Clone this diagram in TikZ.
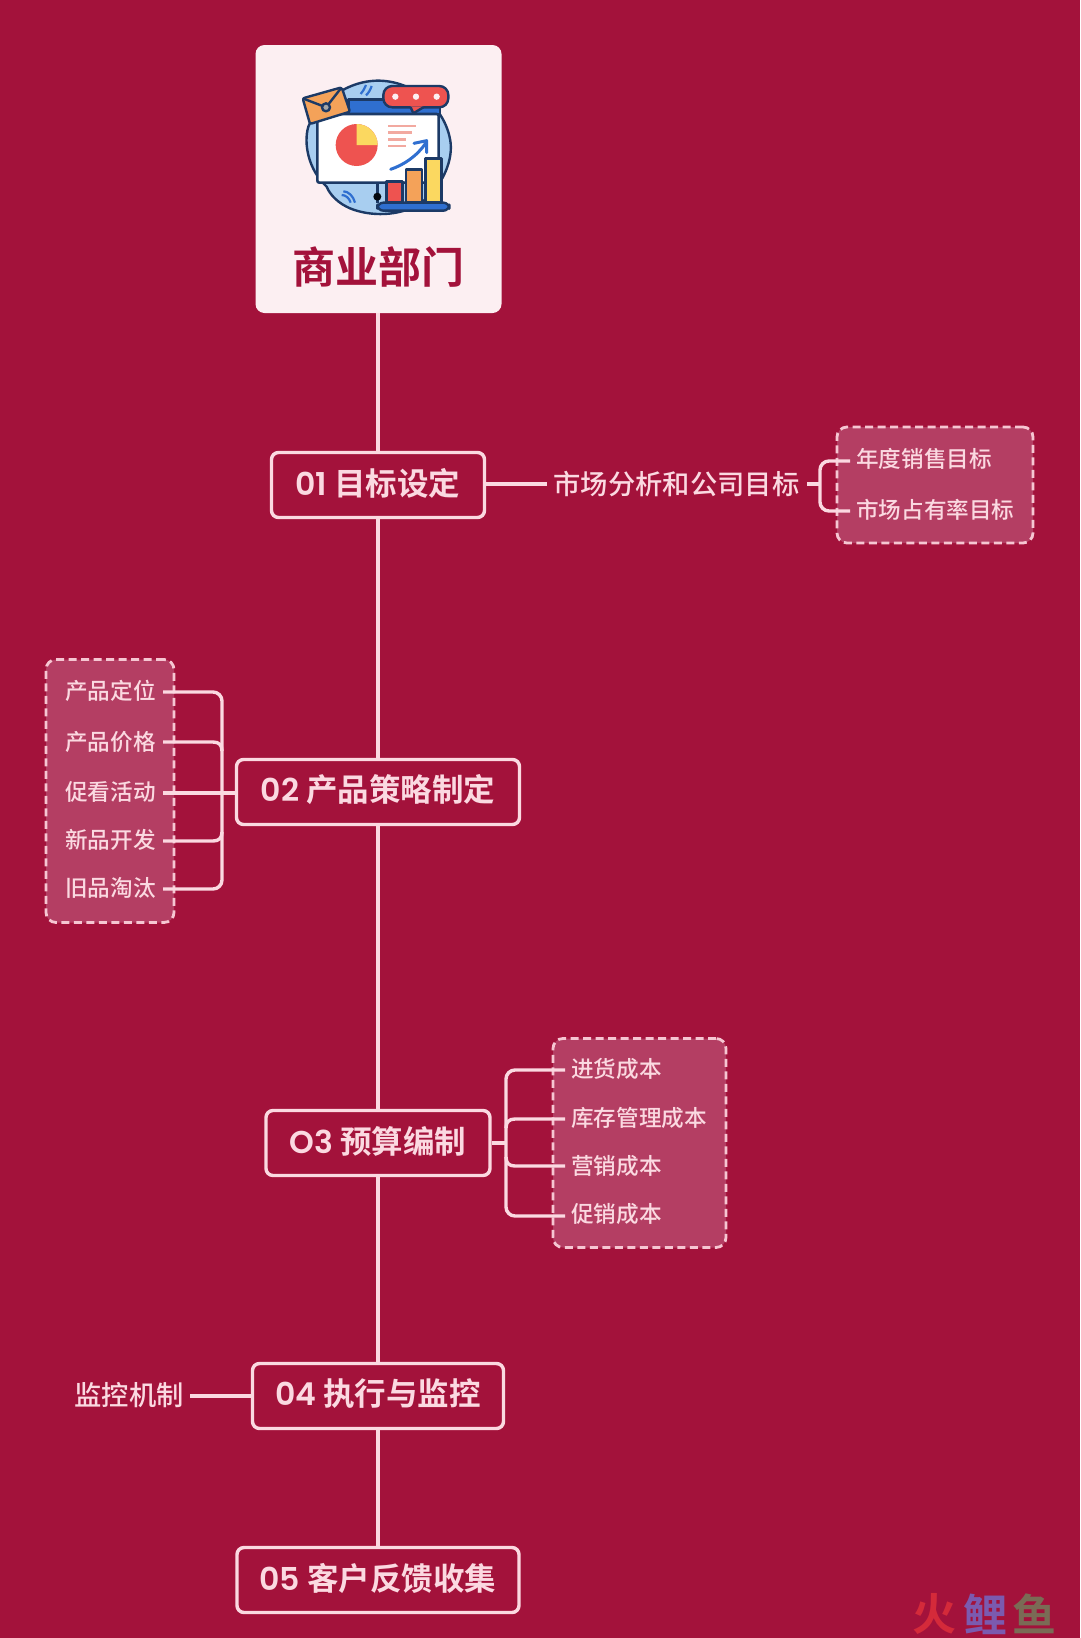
\documentclass[tikz,border=0pt]{standalone}
\usepackage{fontspec}
\newfontfamily\cjkreg{Noto Sans CJK SC Medium}
\newfontfamily\cjkbold{Noto Sans CJK SC Bold}
\newfontfamily\latinb{Poppins SemiBold}
\definecolor{bgred}{HTML}{A3123B}
\definecolor{ink}{HTML}{FBD9E1}
\definecolor{dashink}{HTML}{F6C6D2}
\definecolor{cardfill}{HTML}{FCEFF2}
\definecolor{dashfill}{HTML}{B43E63}
\definecolor{navy}{HTML}{1C3A66}
\definecolor{iconblue}{HTML}{2F6FD0}
\definecolor{skyblue}{HTML}{A8CEF0}
\definecolor{iconred}{HTML}{EE5350}
\definecolor{iconorange}{HTML}{F4A259}
\definecolor{iconyellow}{HTML}{FBD860}
\definecolor{iconpink}{HTML}{F2A9A0}
\definecolor{wmred}{HTML}{D42A3A}
\definecolor{wmpurple}{HTML}{7B5AAF}
\definecolor{wmolive}{HTML}{7A6B55}
\newcommand{\steptext}[2]{\raisebox{0pt}[\height][\dimexpr\depth+4pt\relax]{{\latinb #1} #2}}
\tikzset{
  stepnode/.style={draw=ink,line width=3.4pt,rounded corners=7pt,fill=bgred,text=ink,minimum height=65pt,inner sep=0pt,font=\fontsize{31.5}{36}\selectfont\cjkbold},
  link/.style={draw=ink,line width=3.4pt},
  bracket/.style={link,rounded corners=9pt},
  dashbox/.style={draw=dashink,line width=2.8pt,fill=dashfill,rounded corners=10pt,dash pattern=on 8pt off 4.5pt},
  subtext/.style={text=ink,inner sep=0pt,font=\fontsize{27.3}{31}\selectfont\cjkreg},
  leaf/.style={text=ink,inner sep=0pt,anchor=west,font=\fontsize{22.6}{26}\selectfont\cjkreg},
  outline/.style={draw=navy,line width=2.4pt,line join=round}
}
\begin{document}
\begin{tikzpicture}[x=1pt,y=-1pt]
\useasboundingbox (0,0) rectangle (1080,1638);
\fill[bgred] (0,0) rectangle (1080,1638);

% top card
\node[draw=none,fill=cardfill,rounded corners=9pt,minimum width=246pt,minimum height=268pt,inner sep=0pt] (card) at (378.5,179) {};

% spine nodes
\node[stepnode,minimum width=213pt] (b1) at (378,485) {\steptext{01}{目标设定}};
\node[stepnode,minimum width=283pt] (b2) at (378,792) {\steptext{02}{产品策略制定}};
\node[stepnode,minimum width=224pt] (b3) at (378,1143) {\steptext{O3}{预算编制}};
\node[stepnode,minimum width=251pt] (b4) at (378,1396) {\steptext{04}{执行与监控}};
\node[stepnode,minimum width=282pt] (b5) at (378,1580) {\steptext{05}{客户反馈收集}};

\draw[link] (b1.north |- card.south) -- (b1.north);
\draw[link] (b1.south) -- (b2.north);
\draw[link] (b2.south) -- (b3.north);
\draw[link] (b3.south) -- (b4.north);
\draw[link] (b4.south) -- (b5.north);

% 01 branch
\node[dashbox,minimum width=196pt,minimum height=116pt,inner sep=0pt] (d1) at (935,485) {};
\node[subtext] (m1) at (676.5,484) {市场分析和公司目标};
\coordinate (m1a) at (547,484);
\draw[link] (b1.east |- m1a) -- (m1a);
\coordinate (m1b) at (807,484);
\coordinate (s1) at (820,484);
\coordinate (e11) at (850,461);
\coordinate (e12) at (850,511);
\draw[link] (m1b) -- (s1);
\draw[bracket] (e11) -| (s1) |- (e12);
\node[leaf] (t11) at (856,459) {年度销售目标};
\node[leaf] (t12) at (856,510) {市场占有率目标};

% 02 branch
\node[dashbox,minimum width=128pt,minimum height=263pt,inner sep=0pt] (d2) at (110,791) {};
\coordinate (s2) at (222,792);
\coordinate (e21) at (163,692);
\coordinate (e22) at (163,742);
\coordinate (e23) at (163,793);
\coordinate (e24) at (163,841);
\coordinate (e25) at (163,889);
\draw[bracket] (e21) -| (s2) |- (e25);
\draw[link] (e22) -- (213,742) .. controls (219,742) and (222,745) .. (222,751);
\draw[link] (e24) -- (213,841) .. controls (219,841) and (222,838) .. (222,832);
\draw[link] (e23) -- (b2.west |- e23);
\node[leaf] (t21) at (65,691) {产品定位};
\node[leaf] (t22) at (65,742) {产品价格};
\node[leaf] (t23) at (65,792) {促看活动};
\node[leaf] (t24) at (65,840) {新品开发};
\node[leaf] (t25) at (65,888) {旧品淘汰};

% 03 branch
\node[dashbox,minimum width=173pt,minimum height=209pt,inner sep=0pt] (d3) at (639.5,1143) {};
\coordinate (s3) at (506,1143);
\coordinate (e31) at (565,1070);
\coordinate (e32) at (565,1119);
\coordinate (e33) at (565,1166);
\coordinate (e34) at (565,1216);
\draw[bracket] (e31) -| (s3) |- (e34);
\draw[link] (b3.east) -- (s3);
\draw[link] (e32) -- (515,1119) .. controls (509,1119) and (506,1122) .. (506,1128);
\draw[link] (e33) -- (515,1166) .. controls (509,1166) and (506,1163) .. (506,1157);
\node[leaf] (t31) at (571,1069) {进货成本};
\node[leaf] (t32) at (571,1118) {库存管理成本};
\node[leaf] (t33) at (571,1166) {营销成本};
\node[leaf] (t34) at (571,1214) {促销成本};

% 04 branch
\node[subtext] (m4) at (129,1395) {监控机制};
\coordinate (m4a) at (190,1396);
\draw[link] (m4a) -- (b4.west);

% card title
\node[text=bgred,inner sep=0pt,font=\fontsize{43}{47}\selectfont\cjkbold] (title) at (378,267) {商业部门};

% watermark
\node[text=wmred,inner sep=0pt,font=\fontsize{44}{48}\selectfont\cjkbold] (w1) at (934,1614) {火};
\node[text=wmpurple,inner sep=0pt,font=\fontsize{44}{48}\selectfont\cjkbold] (w2) at (985,1614) {鲤};
\node[text=wmolive,inner sep=0pt,font=\fontsize{44}{48}\selectfont\cjkbold] (w3) at (1034,1614) {鱼};

% icon, in units of the 3x crop
\begin{scope}[shift={(240,30)},x=0.33333pt,y=-0.33333pt]
  \draw[outline,fill=skyblue] (260,470) .. controls (205,420) and (190,340) .. (205,290)
     .. controls (225,240) and (300,155) .. (410,152)
     .. controls (520,150) and (620,235) .. (632,340)
     .. controls (638,400) and (600,480) .. (540,520)
     .. controls (480,560) and (390,560) .. (330,535)
     .. controls (295,520) and (270,495) .. (260,470) -- cycle;
  \draw[line width=2.2pt,iconblue] (378,165) .. controls (372,178) and (368,186) .. (362,192);
  \draw[line width=2.2pt,iconblue] (395,168) .. controls (392,178) and (385,190) .. (378,196);
  \draw[line width=2.2pt,iconblue] (310,484) .. controls (325,484) and (340,498) .. (345,518);
  \draw[line width=2.2pt,iconblue] (305,495) .. controls (318,495) and (328,505) .. (332,518);
  \draw[outline,fill=iconblue,line width=2.6pt] (325,208) rectangle (600,252);
  \draw[outline,fill=white,line width=2.6pt,rounded corners=2pt] (232,252) rectangle (596,458);
  \fill[iconred] (350,345) circle (63);
  \fill[iconyellow] (350,345) -- (350,282) arc[start angle=270,end angle=360,radius=63] -- cycle;
  \foreach \a/\b in {288/528,308/515,328/498,348/498}
    \draw[line width=2.6pt,iconpink] (445,\a) -- (\b,\a);
  \draw[iconblue,line width=3pt,line cap=round] (452,418) .. controls (490,405) and (530,380) .. (558,338);
  \draw[iconblue,line width=3pt,line cap=round,line join=round] (522,340) -- (560,332) -- (560,368);
  \draw[navy,line width=2.6pt] (412,458) -- (412,520);
  \fill[black!85!navy] (412,500) circle (12);
  \draw[outline,fill=iconred] (440,518) |- (488,455) -- (488,518) -- cycle;
  \draw[outline,fill=iconorange] (498,518) |- (546,418) -- (546,518) -- cycle;
  \draw[outline,fill=iconyellow] (556,518) |- (604,385) -- (604,518) -- cycle;
  \draw[outline,fill=iconblue,rounded corners=6pt] (412,518) rectangle (628,542);
  \draw[outline,fill=iconorange,rounded corners=2pt] (188,205) -- (305,172) -- (330,245) -- (210,282) -- cycle;
  \draw[outline] (188,205) -- (258,232) -- (305,172);
  \draw[outline,fill=gray!70] (258,232) circle (12);
  \draw[outline,fill=iconred,rounded corners=9pt] (430,168) rectangle (625,232);
  \fill[iconred] (512,229) -- (520,250) -- (550,229) -- cycle;
  \draw[outline] (512,232) -- (520,250) -- (550,232);
  \foreach \c in {466,528,590} \fill[cardfill] (\c,200) circle (9.5);
\end{scope}
\end{tikzpicture}
\end{document}
